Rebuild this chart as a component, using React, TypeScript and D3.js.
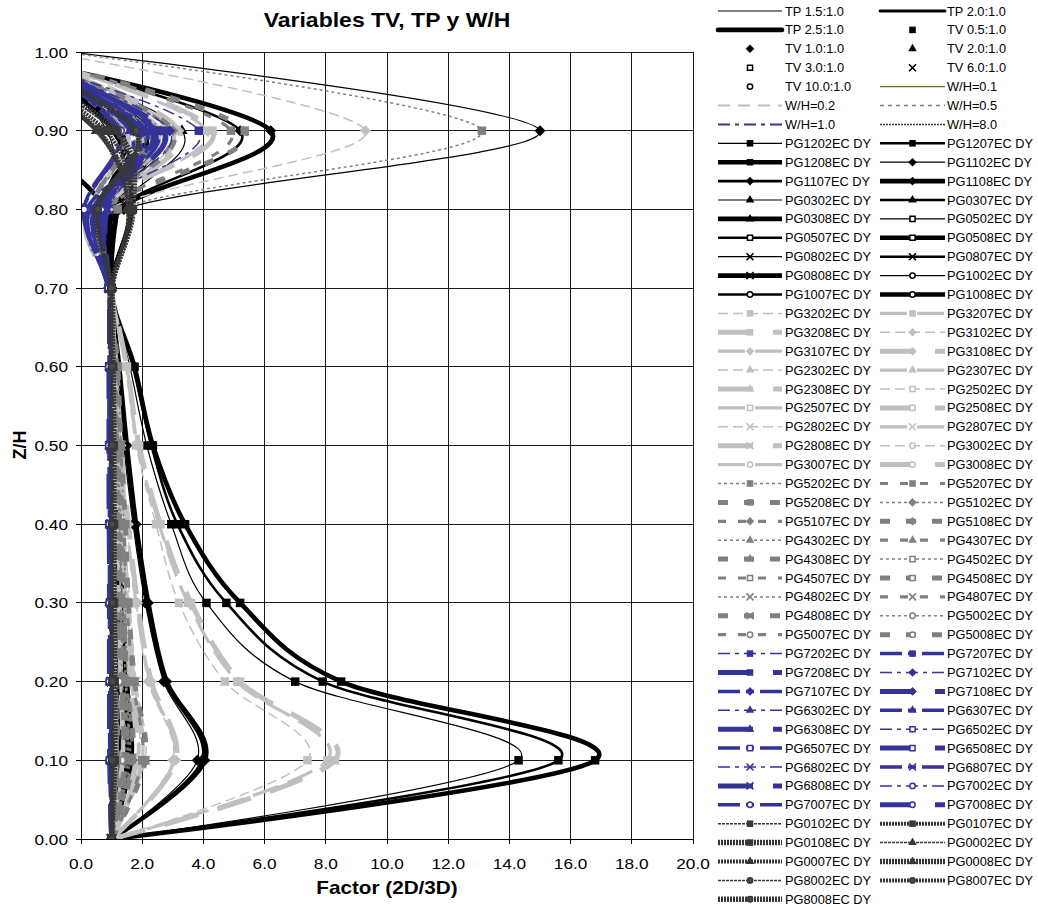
import * as d3 from 'd3';

// Z/H levels shared by every profile
const zLevels = [0, 0.1, 0.2, 0.3, 0.4, 0.5, 0.6, 0.7, 0.8, 0.9, 1.0];
const xTicks = [0, 2, 4, 6, 8, 10, 12, 14, 16, 18, 20];
const yTicks = [0, 0.1, 0.2, 0.3, 0.4, 0.5, 0.6, 0.7, 0.8, 0.9, 1.0];

// legend-only reference entries (no data)
const referenceEntries = [
  'TP 1.5:1.0', 'TP 2.0:1.0', 'TP 2.5:1.0',
  'TV 0.5:1.0', 'TV 1.0:1.0', 'TV 2.0:1.0', 'TV 3.0:1.0', 'TV 6.0:1.0', 'TV 10.0:1.0',
  'W/H=0.1', 'W/H=0.2', 'W/H=0.5', 'W/H=1.0', 'W/H=8.0',
];

// factor values at zLevels
const blackSeries: [string, number[]][] = [
  ['PG1202EC DY', [1.0, 14.3, 7.0, 4.1, 2.95, 2.15, 1.6, 1.0, 1.1, 0.85, -1.5]],
  ['PG1207EC DY', [1.0, 15.6, 7.9, 4.75, 3.15, 2.3, 1.7, 1.0, 1.6, 1.2, -2.0]],
  ['PG1208EC DY', [1.0, 16.8, 8.5, 5.2, 3.4, 2.35, 1.75, 1.0, 1.65, 1.05, -2.0]],
  ['PG1102EC DY', [1.0, 3.8, 2.7, 2.1, 1.7, 1.4, 1.2, 1.0, 1.4, 15.0, -0.4]],
  ['PG1107EC DY', [1.0, 3.95, 2.75, 2.15, 1.75, 1.45, 1.2, 1.0, 1.2, 5.2, -2.8]],
  ['PG1108EC DY', [1.0, 4.05, 2.8, 2.2, 1.8, 1.5, 1.25, 1.0, 1.25, 6.2, -3.2]],
  ['PG0302EC DY', [1.0, 1.3, 1.25, 1.2, 1.15, 1.1, 1.05, 0.95, 1.2, 3.3, -2.5]],
  ['PG0307EC DY', [1.0, 1.25, 1.2, 1.15, 1.1, 1.05, 1.0, 0.95, 1.15, 1.9, -2.5]],
  ['PG0308EC DY', [1.0, 1.2, 1.15, 1.1, 1.1, 1.05, 1.0, 0.95, 1.2, 2.0, -2.5]],
  ['PG0502EC DY', [1.0, 1.6, 1.45, 1.35, 1.25, 1.15, 1.1, 0.95, 0.9, 2.6, -2.5]],
  ['PG0507EC DY', [1.0, 1.55, 1.4, 1.3, 1.2, 1.15, 1.05, 0.95, 0.9, 2.2, -2.5]],
  ['PG0508EC DY', [1.0, 1.5, 1.4, 1.3, 1.2, 1.1, 1.05, 0.95, 0.95, 2.3, -2.5]],
  ['PG0802EC DY', [1.0, 1.7, 1.55, 1.4, 1.3, 1.2, 1.1, 0.95, 1.0, 2.4, -2.5]],
  ['PG0807EC DY', [1.0, 1.65, 1.5, 1.35, 1.25, 1.15, 1.1, 0.95, 1.0, 2.0, -2.5]],
  ['PG0808EC DY', [1.0, 1.6, 1.5, 1.35, 1.25, 1.15, 1.05, 0.95, 0.8, -1.5, -1.0]],
  ['PG1002EC DY', [1.0, 1.1, 1.1, 1.05, 1.05, 1.0, 1.0, 0.95, 0.7, 1.3, -2.0]],
  ['PG1007EC DY', [1.0, 1.1, 1.05, 1.05, 1.0, 1.0, 1.0, 0.95, 0.65, 1.35, -2.0]],
  ['PG1008EC DY', [1.0, 1.05, 1.05, 1.0, 1.0, 1.0, 1.0, 0.95, 0.7, 1.3, -2.0]],
];

const lightSeries: [string, number[]][] = [
  ['PG3202EC DY', [1.0, 7.4, 4.7, 3.2, 2.45, 1.8, 1.45, 0.95, 0.5, 2.6, -2.0]],
  ['PG3207EC DY', [1.0, 8.05, 5.1, 3.5, 2.55, 1.85, 1.5, 0.95, 0.4, 4.1, -2.2]],
  ['PG3208EC DY', [1.0, 8.3, 5.2, 3.6, 2.6, 1.9, 1.5, 0.95, 0.3, 4.3, -2.3]],
  ['PG3102EC DY', [1.0, 3.0, 2.2, 1.8, 1.5, 1.3, 1.15, 0.95, 0.9, 9.3, -1.2]],
  ['PG3107EC DY', [1.0, 3.05, 2.25, 1.8, 1.5, 1.3, 1.15, 0.95, 0.85, 3.0, -2.0]],
  ['PG3108EC DY', [1.0, 3.1, 2.3, 1.85, 1.55, 1.3, 1.15, 0.95, 0.8, 3.2, -2.0]],
  ['PG2302EC DY', [1.0, 1.4, 1.35, 1.3, 1.2, 1.15, 1.1, 0.95, 0.6, 2.2, -2.0]],
  ['PG2307EC DY', [1.0, 1.35, 1.3, 1.25, 1.2, 1.1, 1.05, 0.95, 0.6, 1.9, -2.0]],
  ['PG2308EC DY', [1.0, 1.35, 1.3, 1.25, 1.15, 1.1, 1.05, 0.95, 0.5, 2.0, -2.0]],
  ['PG2502EC DY', [1.0, 1.9, 1.7, 1.5, 1.35, 1.25, 1.15, 0.95, 0.5, 2.8, -2.0]],
  ['PG2507EC DY', [1.0, 1.85, 1.65, 1.45, 1.3, 1.2, 1.1, 0.95, 0.45, 2.4, -2.0]],
  ['PG2508EC DY', [1.0, 1.8, 1.6, 1.45, 1.3, 1.2, 1.1, 0.95, 0.4, 2.5, -2.0]],
  ['PG2802EC DY', [1.0, 2.1, 1.8, 1.6, 1.4, 1.3, 1.15, 0.95, 0.6, 3.0, -2.0]],
  ['PG2807EC DY', [1.0, 2.0, 1.75, 1.55, 1.4, 1.25, 1.1, 0.95, 0.55, 2.6, -2.0]],
  ['PG2808EC DY', [1.0, 2.0, 1.7, 1.5, 1.35, 1.25, 1.1, 0.95, 0.5, 2.7, -2.0]],
  ['PG3002EC DY', [1.0, 1.2, 1.15, 1.1, 1.1, 1.05, 1.0, 0.95, 0.3, 1.6, -2.0]],
  ['PG3007EC DY', [1.0, 1.15, 1.1, 1.1, 1.05, 1.05, 1.0, 0.95, 0.3, 1.5, -2.0]],
  ['PG3008EC DY', [1.0, 1.15, 1.1, 1.1, 1.05, 1.0, 1.0, 0.95, 0.25, 1.5, -2.0]],
];

const graySeries: [string, number[]][] = [
  ['PG5202EC DY', [1.0, 1.5, 1.5, 1.45, 1.4, 1.3, 1.2, 0.95, 1.2, 13.1, -0.6]],
  ['PG5207EC DY', [1.0, 2.0, 1.7, 1.5, 1.4, 1.3, 1.2, 0.95, 0.8, 4.9, -2.4]],
  ['PG5208EC DY', [1.0, 2.1, 1.75, 1.55, 1.45, 1.3, 1.2, 0.95, 0.75, 5.35, -2.6]],
  ['PG5102EC DY', [1.0, 1.6, 1.45, 1.35, 1.3, 1.2, 1.1, 0.95, 0.7, 2.6, -2.2]],
  ['PG5107EC DY', [1.0, 1.65, 1.5, 1.4, 1.3, 1.2, 1.1, 0.95, 0.65, 2.9, -2.2]],
  ['PG5108EC DY', [1.0, 1.7, 1.5, 1.4, 1.3, 1.2, 1.1, 0.95, 0.65, 3.0, -2.2]],
  ['PG4302EC DY', [1.0, 1.2, 1.2, 1.15, 1.1, 1.05, 1.05, 0.95, 0.6, 1.8, -2.2]],
  ['PG4307EC DY', [1.0, 1.2, 1.15, 1.15, 1.1, 1.05, 1.0, 0.95, 0.55, 1.7, -2.2]],
  ['PG4308EC DY', [1.0, 1.2, 1.15, 1.1, 1.1, 1.05, 1.0, 0.95, 0.55, 1.7, -2.2]],
  ['PG4502EC DY', [1.0, 1.45, 1.35, 1.3, 1.25, 1.15, 1.1, 0.95, 0.6, 2.2, -2.2]],
  ['PG4507EC DY', [1.0, 1.4, 1.3, 1.25, 1.2, 1.15, 1.05, 0.95, 0.55, 2.0, -2.2]],
  ['PG4508EC DY', [1.0, 1.4, 1.3, 1.25, 1.2, 1.1, 1.05, 0.95, 0.5, 2.1, -2.2]],
  ['PG4802EC DY', [1.0, 1.55, 1.45, 1.35, 1.25, 1.2, 1.1, 0.95, 0.7, 2.4, -2.2]],
  ['PG4807EC DY', [1.0, 1.5, 1.4, 1.3, 1.25, 1.15, 1.1, 0.95, 0.65, 2.2, -2.2]],
  ['PG4808EC DY', [1.0, 1.5, 1.4, 1.3, 1.2, 1.15, 1.05, 0.95, 0.6, 2.3, -2.2]],
  ['PG5002EC DY', [1.0, 1.1, 1.1, 1.05, 1.05, 1.0, 1.0, 0.95, 0.4, 1.4, -2.2]],
  ['PG5007EC DY', [1.0, 1.1, 1.05, 1.05, 1.0, 1.0, 1.0, 0.95, 0.35, 1.3, -2.2]],
  ['PG5008EC DY', [1.0, 1.05, 1.05, 1.0, 1.0, 1.0, 1.0, 0.95, 0.35, 1.3, -2.2]],
];

const blueSeries: [string, number[]][] = [
  ['PG7202EC DY', [1.0, 0.95, 0.95, 0.95, 0.95, 0.95, 0.95, 0.9, 0.3, 3.85, -3.0]],
  ['PG7207EC DY', [1.0, 0.95, 0.95, 0.95, 0.95, 0.92, 0.92, 0.9, 0.2, 2.5, -2.5]],
  ['PG7208EC DY', [1.0, 0.95, 0.95, 0.95, 0.92, 0.92, 0.92, 0.9, 0.25, 2.7, -3.0]],
  ['PG7102EC DY', [1.0, 0.97, 0.97, 0.96, 0.96, 0.95, 0.95, 0.9, 0.5, 2.9, -2.5]],
  ['PG7107EC DY', [1.0, 0.96, 0.96, 0.95, 0.95, 0.95, 0.94, 0.9, 0.4, 2.3, -2.0]],
  ['PG7108EC DY', [1.0, 0.96, 0.96, 0.95, 0.95, 0.94, 0.94, 0.9, 0.45, 2.4, -2.2]],
  ['PG6302EC DY', [1.0, 0.98, 0.98, 0.97, 0.97, 0.96, 0.95, 0.92, 0.7, 1.8, -2.5]],
  ['PG6307EC DY', [1.0, 0.97, 0.97, 0.97, 0.96, 0.96, 0.95, 0.92, 0.6, 1.6, -2.5]],
  ['PG6308EC DY', [1.0, 0.97, 0.97, 0.96, 0.96, 0.95, 0.95, 0.92, 0.6, 1.7, -2.5]],
  ['PG6502EC DY', [1.0, 1.0, 0.98, 0.98, 0.97, 0.96, 0.95, 0.92, 0.8, 2.0, -2.2]],
  ['PG6507EC DY', [1.0, 0.99, 0.98, 0.97, 0.97, 0.96, 0.95, 0.92, 0.7, 1.9, -2.2]],
  ['PG6508EC DY', [1.0, 0.99, 0.98, 0.97, 0.96, 0.96, 0.95, 0.92, 0.75, 1.9, -2.2]],
  ['PG6802EC DY', [1.0, 1.02, 1.0, 0.99, 0.98, 0.97, 0.96, 0.92, 0.9, 2.2, -2.4]],
  ['PG6807EC DY', [1.0, 1.0, 0.99, 0.98, 0.97, 0.96, 0.95, 0.92, 0.8, 2.1, -2.4]],
  ['PG6808EC DY', [1.0, 1.0, 0.99, 0.98, 0.97, 0.96, 0.95, 0.92, 0.85, 2.0, -2.4]],
  ['PG7002EC DY', [1.0, 0.94, 0.94, 0.94, 0.93, 0.93, 0.92, 0.9, 0.15, 1.3, -2.0]],
  ['PG7007EC DY', [1.0, 0.94, 0.94, 0.93, 0.93, 0.92, 0.92, 0.9, 0.1, 1.2, -2.0]],
  ['PG7008EC DY', [1.0, 0.94, 0.93, 0.93, 0.93, 0.92, 0.92, 0.9, 0.1, 1.2, -2.0]],
];

const darkSeries: [string, number[]][] = [
  ['PG0102EC DY', [1.0, 1.05, 1.05, 1.05, 1.05, 1.05, 1.03, 1.0, 1.6, 1.05, -3.0]],
  ['PG0107EC DY', [1.0, 1.08, 1.08, 1.07, 1.07, 1.06, 1.04, 1.0, 1.65, 0.8, -3.0]],
  ['PG0108EC DY', [1.0, 1.1, 1.1, 1.08, 1.08, 1.07, 1.05, 1.0, 1.7, 1.15, -3.0]],
  ['PG0002EC DY', [1.0, 1.03, 1.03, 1.03, 1.03, 1.02, 1.02, 1.0, 1.5, 0.6, -3.0]],
  ['PG0007EC DY', [1.0, 1.04, 1.04, 1.04, 1.03, 1.03, 1.02, 1.0, 1.55, 0.5, -3.0]],
  ['PG0008EC DY', [1.0, 1.05, 1.05, 1.04, 1.04, 1.03, 1.02, 1.0, 1.6, 0.55, -3.0]],
  ['PG8002EC DY', [1.0, 1.02, 1.02, 1.02, 1.02, 1.01, 1.01, 1.0, 0.55, 1.75, -2.5]],
  ['PG8007EC DY', [1.0, 1.02, 1.02, 1.02, 1.01, 1.01, 1.01, 1.0, 0.5, 1.77, -2.5]],
  ['PG8008EC DY', [1.0, 1.03, 1.03, 1.02, 1.02, 1.01, 1.01, 1.0, 0.55, 1.8, -2.5]],
];

type Marker = 'square' | 'diamond' | 'triangle' | 'openSquare' | 'x' | 'circle' | null;
interface Style { color: string; width: number; dash: string | null; marker: Marker; cap?: string; fill?: string; }

const groups: Record<string, { color: string; widths: number[]; dashes: (string | null)[] }> = {
  black: { color: '#000000', widths: [1.2, 2.6, 4.6], dashes: [null, null, null] },
  light: { color: '#C0C0C0', widths: [1.5, 3.2, 5], dashes: ['10,5', '27,10', '35,20'] },
  gray: { color: '#808080', widths: [1.5, 3.2, 5], dashes: ['3,3', '8,12', '10,16'] },
  blue: { color: '#333399', widths: [1.5, 3.5, 5], dashes: ['12,5,4,5', '22,6,8,6', '35,20'] },
  dark: { color: '#383838', widths: [1.5, 4, 5.5], dashes: ['3,1', '2,1', '2,1'] },
};

function pgStyle(name: string): Style {
  const fam = name.slice(2, 4);
  const variant = ['02', '07', '08'].indexOf(name.slice(4, 6));
  let group = 'black';
  if (['32', '31', '23', '25', '28', '30'].includes(fam)) group = 'light';
  else if (['52', '51', '43', '45', '48', '50'].includes(fam)) group = 'gray';
  else if (['72', '71', '63', '65', '68', '70'].includes(fam)) group = 'blue';
  else if (['01', '00', '80'].includes(fam)) group = 'dark';
  let marker: Marker = 'square';
  if (['11', '31', '51', '71'].includes(fam)) marker = 'diamond';
  else if (['03', '23', '43', '63', '00'].includes(fam)) marker = 'triangle';
  else if (['05', '25', '45', '65'].includes(fam)) marker = 'openSquare';
  else if (['08', '28', '48', '68'].includes(fam)) marker = 'x';
  else if (['10', '30', '50', '70', '80'].includes(fam)) marker = 'circle';
  const g = groups[group];
  return {
    color: g.color, width: g.widths[variant], dash: g.dashes[variant], marker,
    fill: group === 'dark' ? '#4a4a4a' : '#fff',
  };
}

const refStyles: Style[] = [
  { color: '#000', width: 1.2, dash: null, marker: null },
  { color: '#000', width: 2.8, dash: null, marker: null, cap: 'round' },
  { color: '#000', width: 4.6, dash: null, marker: null, cap: 'round' },
  { color: '#000', width: 0, dash: null, marker: 'square' },
  { color: '#000', width: 0, dash: null, marker: 'diamond' },
  { color: '#000', width: 0, dash: null, marker: 'triangle' },
  { color: '#000', width: 0, dash: null, marker: 'openSquare' },
  { color: '#000', width: 0, dash: null, marker: 'x' },
  { color: '#000', width: 0, dash: null, marker: 'circle' },
  { color: '#6B6B1E', width: 1.2, dash: null, marker: null },
  { color: '#C0C0C0', width: 2, dash: '12,8', marker: null },
  { color: '#808080', width: 1.5, dash: '4,4', marker: null },
  { color: '#333399', width: 2, dash: '12,5,4,5', marker: null },
  { color: '#383838', width: 1.5, dash: '2,1', marker: null },
];

const symbolDiamond2 = (d3 as any).symbolDiamond2 ?? d3.symbolDiamond;
const symbolTimes = (d3 as any).symbolTimes ?? d3.symbolCross;

function MarkerShape({ type, color, cx, cy, small, fill = '#fff' }: { type: Marker; color: string; cx: number; cy: number; small?: boolean; fill?: string }) {
  if (!type) return null;
  const k = small ? 0.6 : 1;
  const tf = `translate(${cx},${cy})`;
  if (type === 'square') return <path transform={tf} d={d3.symbol(d3.symbolSquare, 72 * k)()!} fill={color} />;
  if (type === 'diamond') return <path transform={tf} d={d3.symbol(symbolDiamond2, 78 * k)()!} fill={color} />;
  if (type === 'triangle') return <path transform={tf} d={d3.symbol(d3.symbolTriangle, 54 * k)()!} fill={color} />;
  if (type === 'openSquare') return <path transform={tf} d={d3.symbol(d3.symbolSquare, 44 * k)()!} fill="#fff" stroke={color} strokeWidth={1.5} />;
  if (type === 'x') return <path transform={tf} d={d3.symbol(symbolTimes, 56 * k)()!} fill="none" stroke={color} strokeWidth={1.6} />;
  return <path transform={tf} d={d3.symbol(d3.symbolCircle, 38 * k)()!} fill={fill} stroke={color} strokeWidth={1.5} />;
}

const allPg = [...blackSeries, ...lightSeries, ...graySeries, ...blueSeries, ...darkSeries];

export default function App() {
  const W = 1038, H = 907;
  const x = d3.scaleLinear().domain([0, 20]).range([81, 693]);
  const y = d3.scaleLinear().domain([0, 1]).range([839, 52]);
  const line = d3.line<number>()
    .x(d => x(d))
    .y((_, i) => y(zLevels[i]))
    .curve(d3.curveCardinal.tension(0));

  const legendItems: { name: string; style: Style }[] = [
    ...referenceEntries.map((n, i) => ({ name: n, style: refStyles[i] })),
    ...allPg.map(([n]) => ({ name: n, style: pgStyle(n) })),
  ];

  const font = 'Liberation Sans, Arial, sans-serif';

  return (
    <svg width={W} height={H} style={{ position: 'absolute', left: 0, top: 0, background: '#fff' }} fontFamily={font}>
      <defs>
        <clipPath id="plotClip">
          <rect x={x(0)} y={y(1)} width={x(20) - x(0)} height={y(0) - y(1)} />
        </clipPath>
      </defs>
      <rect width={W} height={H} fill="#fff" />
      {/* grid */}
      <g shapeRendering="crispEdges" stroke="#1a1a1a" strokeWidth={1}>
        {xTicks.slice(1).map(t => <line key={'gx' + t} x1={x(t)} x2={x(t)} y1={y(0)} y2={y(1)} />)}
        {yTicks.slice(1).map(t => <line key={'gy' + t} x1={x(0)} x2={x(20)} y1={y(t)} y2={y(t)} />)}
      </g>
      {/* series */}
      <g clipPath="url(#plotClip)">
        {allPg.map(([name, vals]) => {
          const s = pgStyle(name);
          return (
            <g key={name}>
              <path d={line(vals)!} fill="none" stroke={s.color} strokeWidth={s.width}
                strokeDasharray={s.dash ?? undefined} strokeLinejoin="round" />
              {vals.map((v, i) => v >= 0 && zLevels[i] < 1 ? (
                <MarkerShape key={i} type={s.marker} color={s.color} fill={s.fill} cx={x(v)} cy={y(zLevels[i])} />
              ) : null)}
            </g>
          );
        })}
      </g>
      {/* axes */}
      <g shapeRendering="crispEdges" stroke="#000" strokeWidth={1}>
        <line x1={x(0)} x2={x(0)} y1={y(0)} y2={y(1)} />
        <line x1={x(0)} x2={x(20)} y1={y(0)} y2={y(0)} />
        {yTicks.map(t => <line key={'ty' + t} x1={x(0) - 5} x2={x(0)} y1={y(t)} y2={y(t)} />)}
        {xTicks.map(t => <line key={'tx' + t} x1={x(t)} x2={x(t)} y1={y(0)} y2={y(0) + 5} />)}
      </g>
      <g fontSize={15} fill="#000">
        {yTicks.map(t => (
          <text key={'ly' + t} transform={`translate(68,${y(t) + 5.5}) scale(1.15,1)`} textAnchor="end">{t.toFixed(2)}</text>
        ))}
        {xTicks.map(t => (
          <text key={'lx' + t} transform={`translate(${x(t)},${869}) scale(1.15,1)`} textAnchor="middle">{t.toFixed(1)}</text>
        ))}
      </g>
      <text transform="translate(387,27) scale(1.15,1)" textAnchor="middle" fontSize={20} fontWeight="bold">Variables TV, TP y W/H</text>
      <text transform="translate(387,894) scale(1.15,1)" textAnchor="middle" fontSize={18} fontWeight="bold">Factor (2D/3D)</text>
      <text transform="translate(26,445) rotate(-90)" textAnchor="middle" fontSize={18} fontWeight="bold">Z/H</text>
      {/* legend */}
      <g fontSize={12.8}>
        {legendItems.map((it, k) => {
          const row = Math.floor(k / 2), col = k % 2;
          const cy = 11 + row * 18.9;
          const x0 = col === 0 ? 718 : 880;
          const x1 = col === 0 ? 782 : 945;
          const tx = col === 0 ? 785 : 947;
          const s = it.style;
          return (
            <g key={it.name}>
              {s.width > 0 && (
                <line x1={x0} x2={x1} y1={cy} y2={cy} stroke={s.color} strokeWidth={s.width}
                  strokeDasharray={s.dash ?? undefined} strokeLinecap={(s.cap as any) ?? 'butt'} />
              )}
              <MarkerShape type={s.marker} color={s.color} fill={s.fill} cx={(x0 + x1) / 2} cy={cy} small />
              <text x={tx} y={cy + 4.5} fill="#000">{it.name}</text>
            </g>
          );
        })}
      </g>
    </svg>
  );
}
